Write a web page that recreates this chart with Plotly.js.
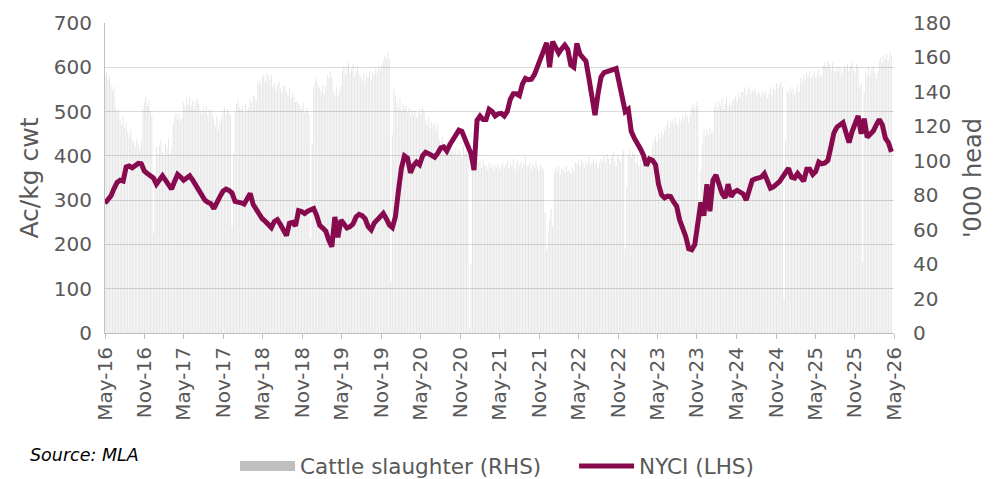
<!DOCTYPE html>
<html>
<head>
<meta charset="utf-8">
<script src="https://cdn.plot.ly/plotly-3.0.1.min.js"></script>
<style>
  html, body { margin: 0; padding: 0; background: #ffffff; }
  #chart { width: 996px; height: 479px; }
</style>
</head>
<body>
<div id="chart"></div>
<script>
// ---- DATA ----
// Weekly cattle slaughter ('000 head), weekly from early May 2016
const slaughterStart = '2016-05-01';
const slaughter = [
  150,152,147,149,144,141,143,131,128,130,124,121,126,119,123,117,114,118,112,111,108,113,110,106,112,130,134,137,132,135,129,126,58,92,108,104,109,112,105,103,110,107,113,104,108,121,126,128,124,127,123,125,
  134,131,136,133,137,132,135,130,134,136,133,129,127,131,128,132,126,130,129,127,124,120,126,118,122,125,129,131,127,130,128,126,62,104,128,133,135,131,130,132,128,133,129,131,136,134,138,137,135,145,147,144,
  148,150,146,151,149,147,150,143,145,141,144,146,142,140,143,144,140,138,142,136,139,137,134,135,133,132,130,134,128,131,129,127,55,110,143,146,148,144,142,140,144,139,143,150,148,152,149,140,138,143,137,141,
  144,152,155,150,154,157,151,153,156,149,152,155,150,149,147,151,146,150,148,152,147,152,150,154,151,155,153,156,158,161,159,163,160,30,115,142,138,134,131,136,129,133,130,132,128,131,126,130,127,129,125,128,
  130,127,131,129,124,121,126,119,123,120,122,118,121,112,108,114,110,106,111,107,109,105,106,104,108,103,107,105,102,109,104,106,103,3,40,98,101,97,102,99,100,96,101,98,97,95,99,96,98,94,97,96,
  98,95,97,99,96,98,100,96,99,97,101,95,98,100,97,99,96,98,102,97,97,99,95,98,96,100,97,94,98,96,95,70,48,58,66,72,62,93,96,94,97,92,95,96,93,97,94,95,92,96,94,99,
  98,100,97,101,99,96,100,98,102,97,99,101,98,100,96,99,101,100,103,99,104,101,98,102,105,100,97,103,101,99,104,106,49,85,103,107,102,105,104,99,102,97,101,98,100,96,103,99,101,98,108,112,
  114,111,116,113,117,115,118,120,123,119,122,124,121,125,122,120,125,123,127,124,128,126,122,127,131,133,130,134,132,60,95,110,118,114,118,115,119,116,117,131,134,129,135,132,136,130,133,137,131,134,132,135,
  136,138,135,139,137,140,140,142,138,141,143,139,141,140,142,138,141,139,137,141,138,140,136,139,142,138,143,141,145,142,144,146,143,20,112,141,139,143,140,142,138,141,144,140,148,146,150,147,151,149,152,148,
  150,152,148,151,153,149,150,155,157,154,158,156,153,157,153,151,155,152,154,150,153,155,154,156,152,155,157,153,151,156,154,143,145,41,140,152,150,154,149,153,155,151,148,152,158,160,157,161,159,162,158,163,
  161
];

// NYCI (Ac/kg cwt), fortnightly from early May 2016
const nyciStart = '2016-05-01';
const nyci = [
  293,300,310,326,340,345,343,375,377,373,378,383,382,366,360,355,350,336,347,355,345,335,325,342,358,352,345,350,355,345,
  333,323,312,300,295,292,281,292,308,320,325,322,316,297,296,294,291,305,315,290,280,267,258,252,244,238,252,256,245,230,
  220,248,250,242,276,274,270,275,279,281,265,243,237,230,210,195,262,216,255,244,237,240,246,262,268,265,258,240,233,248,
  256,265,270,258,244,238,262,320,372,400,395,362,378,386,380,400,408,405,400,397,406,418,420,411,425,438,447,458,455,438,
  425,405,368,480,490,482,482,505,500,490,495,496,490,500,528,540,540,536,562,575,572,573,584,600,618,634,655,600,658,645,
  632,642,650,640,605,600,654,630,622,614,575,535,492,540,578,588,591,592,594,597,565,528,500,505,455,440,430,416,402,378,
  393,390,380,336,312,305,309,308,296,286,255,238,218,190,188,200,240,295,265,336,275,345,357,332,315,305,336,308,318,322,
  318,314,300,322,345,348,349,352,360,340,327,330,336,342,352,362,372,352,350,360,352,343,370,370,358,365,386,382,384,390,
  420,452,465,472,475,452,430,455,475,490,450,484,442,450,456,470,482,470,440,430,409
];

// Axis tick settings
const xRange = ['2016-05-01', '2026-05-01'];
const leftTicks = [0, 100, 200, 300, 400, 500, 600, 700];
const rightTicks = [0, 20, 40, 60, 80, 100, 120, 140, 160, 180];

// ---- helpers ----
function dateSeries(start, n, stepDays) {
  const out = [];
  const t0 = new Date(start + 'T00:00:00Z').getTime();
  for (let i = 0; i < n; i++) {
    const d = new Date(t0 + i * stepDays * 86400000);
    out.push(d.toISOString().slice(0, 10));
  }
  return out;
}

const slaughterDates = dateSeries(slaughterStart, slaughter.length, 7);
const nyciDates = dateSeries(nyciStart, nyci.length, 14);

const FONT = 'DejaVu Sans, sans-serif';
const GREY_TXT = '#595959';
const MAROON = '#870a4f';

const traces = [
  {
    type: 'bar',
    x: slaughterDates,
    y: slaughter,
    yaxis: 'y',
    marker: { color: 'rgba(0,0,0,0.1)', line: { width: 0 } },
    showlegend: false,
    hoverinfo: 'skip'
  },
  {
    // legend entry for the bars (no data drawn)
    type: 'scatter',
    mode: 'lines',
    x: [null],
    y: [null],
    yaxis: 'y',
    name: 'Cattle slaughter (RHS)',
    line: { color: '#bfbfbf', width: 12 },
    hoverinfo: 'skip'
  },
  {
    type: 'scatter',
    mode: 'lines',
    x: nyciDates,
    y: nyci,
    yaxis: 'y2',
    name: 'NYCI (LHS)',
    line: { color: MAROON, width: 5 },
    hoverinfo: 'skip'
  }
];

const layout = {
  width: 996,
  height: 479,
  margin: { l: 105, r: 102, t: 23, b: 146 },
  paper_bgcolor: '#ffffff',
  plot_bgcolor: '#ffffff',
  font: { family: FONT, color: GREY_TXT, size: 20 },
  bargap: 0.35,
  showlegend: true,
  legend: {
    orientation: 'h',
    xref: 'container', yref: 'container',
    x: 0.236, xanchor: 'left',
    y: 0.027, yanchor: 'middle',
    font: { family: FONT, size: 21.5, color: GREY_TXT },
    itemwidth: 55,
    entrywidth: 269,
    traceorder: 'normal',
    bgcolor: 'rgba(0,0,0,0)'
  },
  xaxis: {
    type: 'date',
    range: xRange,
    automargin: false,
    dtick: 'M6',
    tick0: '2016-05-01',
    tickformat: '%b-%y',
    tickangle: -90,
    ticks: 'outside',
    ticklen: 5,
    tickcolor: '#bfbfbf',
    showline: true,
    linecolor: '#bfbfbf',
    linewidth: 1,
    showgrid: false,
    zeroline: false,
    tickfont: { family: FONT, size: 20, color: GREY_TXT }
  },
  yaxis: {
    side: 'right',
    range: [0, 180],
    automargin: false,
    tickvals: rightTicks,
    showgrid: false,
    zeroline: false,
    showline: false,
    ticks: '',
    ticklabelstandoff: 18,
    tickfont: { family: FONT, size: 20, color: GREY_TXT },
    title: { text: "'000 head", font: { family: FONT, size: 24, color: GREY_TXT }, standoff: 14 }
  },
  yaxis2: {
    overlaying: 'y',
    side: 'left',
    range: [0, 700],
    automargin: false,
    tickvals: leftTicks,
    showgrid: true,
    gridcolor: '#d9d9d9',
    gridwidth: 1,
    zeroline: false,
    showline: true,
    linecolor: '#bfbfbf',
    ticks: '',
    ticklabelstandoff: 8,
    tickfont: { family: FONT, size: 20, color: GREY_TXT },
    title: { text: 'Ac/kg cwt', font: { family: FONT, size: 25, color: GREY_TXT }, standoff: 8 }
  },
  annotations: [
    {
      text: 'Source: MLA',
      xref: 'paper', yref: 'paper',
      x: -0.098, y: -0.394,
      xanchor: 'left', yanchor: 'middle',
      showarrow: false,
      font: { family: FONT, size: 17.5, color: '#000000', style: 'italic' }
    }
  ]
};

Plotly.newPlot('chart', traces, layout, { staticPlot: true, displayModeBar: false });
</script>
</body>
</html>
